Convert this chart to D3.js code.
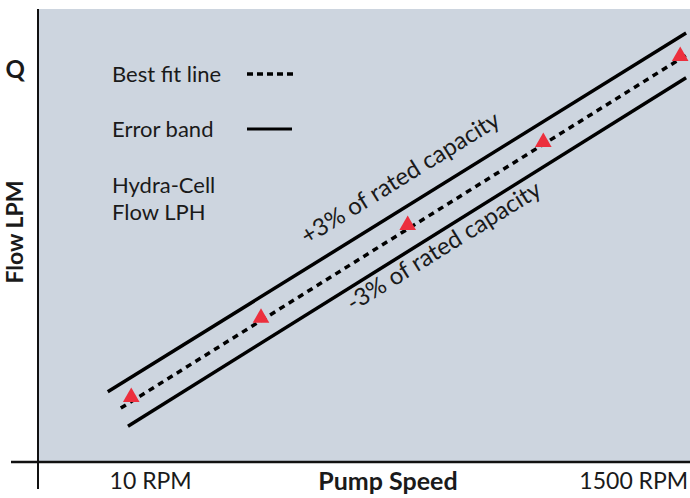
<!DOCTYPE html>
<html>
<head>
<meta charset="utf-8">
<script src="https://cdn.jsdelivr.net/npm/d3@7"></script>
<style>
  body { margin: 0; background: #fff; }
  text { font-family: "Lato", "Noto Sans", sans-serif; fill: #1a1a1a; }
</style>
</head>
<body>
<div id="chart"></div>
<script>
// chart values (relative units, 0-100 on both axes)
var pointX = [14.3, 34.2, 56.7, 77.5, 98.5];
var pointY = [14.3, 31.8, 52.3, 70.6, 89.6];

var fitX   = [12.7, 99.4];
var fitY   = [11.9, 89.8];
var upperX = [10.7, 99.4];
var upperY = [15.5, 94.7];
var lowerX = [13.8, 99.4];
var lowerY = [7.9, 84.8];

var xTickValues = [17.2, 91.3];
var xTickLabels = ["10 RPM", "1500 RPM"];
var yTickValues = [86.5];
var yTickLabels = ["Q"];

var width = 690, height = 498;
var margin = {top: 9, right: 0, bottom: 36, left: 38};

var svg = d3.select("#chart").append("svg")
    .attr("width", width)
    .attr("height", height);

var x = d3.scaleLinear().domain([0, 100]).range([margin.left, width - margin.right]);
var y = d3.scaleLinear().domain([0, 100]).range([height - margin.bottom, margin.top]);

// plot background
svg.append("rect")
    .attr("x", x(0))
    .attr("y", y(100))
    .attr("width", x(100) - x(0))
    .attr("height", y(0) - y(100))
    .attr("fill", "#cdd5df");

// axes frame lines
svg.append("line")
    .attr("x1", x(0)).attr("x2", x(0))
    .attr("y1", y(100)).attr("y2", y(0) + 27)
    .attr("stroke", "#111").attr("stroke-width", 2);
svg.append("line")
    .attr("x1", x(0) - 27).attr("x2", x(100))
    .attr("y1", y(0)).attr("y2", y(0))
    .attr("stroke", "#111").attr("stroke-width", 2.5);

// tick labels
var xAxis = d3.axisBottom(x)
    .tickValues(xTickValues)
    .tickSize(0)
    .tickPadding(11)
    .tickFormat(function(d, i) { return xTickLabels[i]; });
var gx = svg.append("g")
    .attr("transform", "translate(0," + y(0) + ")")
    .call(xAxis);
gx.select(".domain").remove();
gx.selectAll("text")
    .style("font-family", "Lato, sans-serif")
    .style("font-size", "23px")
    .attr("fill", "#1a1a1a");

var yAxis = d3.axisLeft(y)
    .tickValues(yTickValues)
    .tickSize(0)
    .tickPadding(13)
    .tickFormat(function(d, i) { return yTickLabels[i]; });
var gy = svg.append("g")
    .attr("transform", "translate(" + x(0) + ",0)")
    .call(yAxis);
gy.select(".domain").remove();
gy.selectAll("text")
    .style("font-family", "Lato, sans-serif")
    .style("font-size", "24px")
    .style("font-weight", "bold")
    .attr("fill", "#1a1a1a");

// axis titles
svg.append("text")
    .attr("x", 388)
    .attr("y", 490)
    .attr("text-anchor", "middle")
    .style("font-size", "25px")
    .style("font-weight", "bold")
    .text("Pump Speed");

svg.append("text")
    .attr("transform", "translate(23,232) rotate(-90)")
    .attr("text-anchor", "middle")
    .style("font-size", "23px")
    .style("font-weight", "bold")
    .text("Flow LPM");

var line = d3.line()
    .x(function(d) { return x(d[0]); })
    .y(function(d) { return y(d[1]); });

function pairs(xs, ys) { return xs.map(function(v, i) { return [v, ys[i]]; }); }

// error band lines
svg.append("path")
    .datum(pairs(upperX, upperY))
    .attr("d", line)
    .attr("fill", "none")
    .attr("stroke", "#000")
    .attr("stroke-width", 3.5);
svg.append("path")
    .datum(pairs(lowerX, lowerY))
    .attr("d", line)
    .attr("fill", "none")
    .attr("stroke", "#000")
    .attr("stroke-width", 3.5);

// best fit line
svg.append("path")
    .datum(pairs(fitX, fitY))
    .attr("d", line)
    .attr("fill", "none")
    .attr("stroke", "#000")
    .attr("stroke-width", 3.5)
    .attr("stroke-dasharray", "6,5");

// measured points
var tri = d3.symbol().type(d3.symbolTriangle).size(120);
svg.selectAll(".pt")
    .data(pairs(pointX, pointY))
  .enter().append("path")
    .attr("class", "pt")
    .attr("d", tri)
    .attr("transform", function(d) { return "translate(" + x(d[0]) + "," + y(d[1]) + ")"; })
    .attr("fill", "#ec2f3d");

// rotated labels along the band
var angle = Math.atan2(y(upperY[1]) - y(upperY[0]), x(upperX[1]) - x(upperX[0])) * 180 / Math.PI;

svg.append("text")
    .attr("transform", "translate(" + x(41.3) + "," + y(47.9) + ") rotate(" + angle + ")")
    .style("font-size", "24px")
    .text("+3% of rated capacity");

svg.append("text")
    .attr("transform", "translate(" + x(48.3) + "," + y(33.1) + ") rotate(" + angle + ")")
    .style("font-size", "24px")
    .text("-3% of rated capacity");

// legend
var legend = svg.append("g");
legend.append("text").attr("x", 112).attr("y", 82).style("font-size", "22px").text("Best fit line");
legend.append("line")
    .attr("x1", 247).attr("x2", 293).attr("y1", 74).attr("y2", 74)
    .attr("stroke", "#000").attr("stroke-width", 3.5)
    .attr("stroke-dasharray", "6,4");
legend.append("text").attr("x", 112).attr("y", 137).style("font-size", "22px").text("Error band");
legend.append("line")
    .attr("x1", 247).attr("x2", 292).attr("y1", 129).attr("y2", 129)
    .attr("stroke", "#000").attr("stroke-width", 3);
legend.append("text").attr("x", 112).attr("y", 193).style("font-size", "22px").text("Hydra-Cell");
legend.append("text").attr("x", 112).attr("y", 220).style("font-size", "22px").text("Flow LPH");
</script>
</body>
</html>
